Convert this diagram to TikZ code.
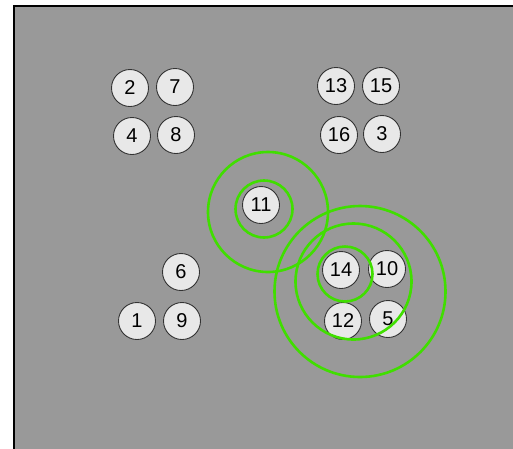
\documentclass[tikz,border=0pt]{standalone}
\usepackage{fontspec}
\setmainfont{Liberation Sans}
\usetikzlibrary{positioning}
\definecolor{panel}{RGB}{153,153,153}
\definecolor{disc}{RGB}{232,232,232}
\definecolor{ringgreen}{RGB}{64,222,0}

\begin{document}
\begin{tikzpicture}[x=1pt,y=-1pt,
  pt/.style={draw=black!80, fill=disc, circle, line width=0.9pt, minimum size=37pt, inner sep=0pt, font=\fontsize{20}{20}\selectfont},
  ring/.style={draw=ringgreen, line width=2.6pt},
]
\useasboundingbox (0,0) rectangle (513,448);
\begin{scope}
\clip (0,0) rectangle (513,448);
\draw[fill=panel, line width=2pt] (14,6) rectangle (530,470);
\end{scope}
% upper left group
\node[pt] (n2)  at (130,88)  {2};
\node[pt] (n7)  at (175,87)  {7};
\node[pt] (n4)  at (132,136) {4};
\node[pt] (n8)  at (176,135) {8};
% upper right group
\node[pt] (n13) at (336,86)  {13};
\node[pt] (n15) at (381,86)  {15};
\node[pt] (n16) at (339,135) {16};
\node[pt] (n3)  at (382,134) {3};
% middle
\node[pt] (n11) at (261,205) {11};
% lower left group
\node[pt] (n6)  at (181,272) {6};
\node[pt] (n1)  at (137,321) {1};
\node[pt] (n9)  at (182,321) {9};
% lower right group
\node[pt] (n14) at (341,270) {14};
\node[pt] (n10) at (387,269) {10};
\node[pt] (n12) at (343,321) {12};
\node[pt] (n5)  at (388,319) {5};
% search radii
\draw[ring] (264,209) circle (28.5);
\draw[ring] (268,212) circle (60);
\draw[ring] (345,274) circle (27.5);
\draw[ring] (353.5,281.5) circle (58);
\draw[ring] (360,291.5) circle (85.5);
\end{tikzpicture}
\end{document}
